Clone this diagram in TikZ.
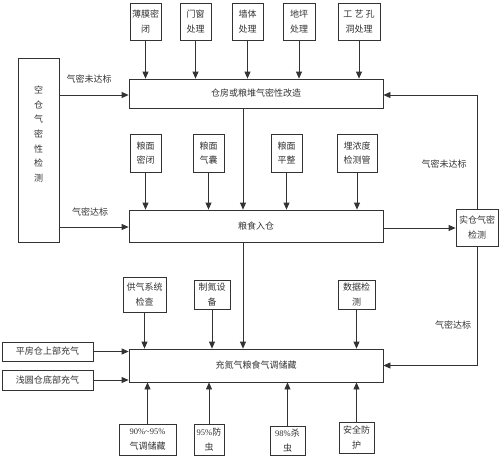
\documentclass[tikz,border=0pt]{standalone}
\usepackage{fontspec}
\setmainfont{Liberation Serif}
\newfontfamily\cjk{Noto Sans CJK SC}
\newfontfamily\digf{Liberation Serif}
\usetikzlibrary{arrows.meta}
\definecolor{ln}{gray}{0.2}
\newcommand{\dg}[1]{{\digf\fontsize{8.5}{14.5}\selectfont #1}}
\begin{document}
\begin{tikzpicture}[x=1pt,y=-1pt,
  font=\cjk\fontsize{9}{14.5}\selectfont,
  box/.style={draw=ln, line width=0.8pt, inner sep=0pt, align=center, text=ln},
  sz/.style 2 args={minimum width=#1pt, minimum height=#2pt},
  arr/.style={draw=ln, line width=0.8pt, -{Triangle[length=7pt,width=6pt]}},
  lbl/.style={text=ln, inner sep=0pt, align=center}]
\useasboundingbox (0,0) rectangle (500,456);
% top row
\node[box, sz={31}{37}] (f1) at (145.5,21.5) {薄膜密\\闭};
\node[box, sz={31}{37}] (f2) at (195.5,21.5) {门窗\\处理};
\node[box, sz={31}{37}] (f3) at (247.5,21.5) {墙体\\处理};
\node[box, sz={32}{37}] (f4) at (299,21.5) {地坪\\处理};
\node[box, sz={42}{37}] (f5) at (359,21.5) {工 艺 孔\\洞处理};
\node[box, sz={254}{29}] (A) at (256,93.5) {仓房或粮堆气密性改造};
% left test box
\node[box, sz={41}{184}] (E) at (38.5,150) {};
\node[lbl, font=\cjk\fontsize{9}{14.7}\selectfont] (Et) at (38.5,134) {空\\仓\\气\\密\\性\\检\\测};
% second row
\node[box, sz={31}{38}] (g1) at (145.5,153) {粮面\\密闭};
\node[box, sz={31}{38}] (g2) at (208.5,153) {粮面\\气囊};
\node[box, sz={31}{38}] (g3) at (286.5,153) {粮面\\平整};
\node[box, sz={40}{38}] (g4) at (357,153) {埋浓度\\检测管};
\node[box, sz={254}{32}] (B) at (256,226) {粮食入仓};
\node[box, sz={42}{37}] (S) at (477,227.5) {实仓气密\\检测};
% third row
\node[box, sz={43}{35}] (h1) at (144.5,294.5) {供气系统\\检查};
\node[box, sz={36}{29}] (h2) at (212,294.5) {制氮设\\备};
\node[box, sz={37}{29}] (h3) at (356.5,294.5) {数据检\\测};
\node[box, sz={254}{33}] (C) at (256,365.5) {充氮气粮食气调储藏};
\node[box, sz={91}{19}] (l1) at (47.5,351.5) {平房仓上部充气};
\node[box, sz={91}{20}] (l2) at (47.5,380) {浅圆仓底部充气};
% bottom row
\node[box, sz={57}{31}] (b1) at (147.5,439.5) {\dg{90\%\textasciitilde95\%}\\气调储藏};
\node[box, sz={30}{31}] (b2) at (209,439.5) {\dg{95\%}防\\虫};
\node[box, sz={35}{29}] (b3) at (287.5,440.5) {\dg{98\%}杀\\虫};
\node[box, sz={35}{31}] (b4) at (356.5,437.5) {安全防\\护};
% labels
\node[lbl] (t1) at (89,79) {气密未达标};
\node[lbl] (t2) at (90,212) {气密达标};
\node[lbl] (t3) at (444,164) {气密未达标};
\node[lbl] (t4) at (453,325) {气密达标};
% arrows
\foreach \n in {f1,f2,f3,f4,f5} \draw[arr] (\n.south) -- (\n.south |- A.north);
\foreach \n in {g1,g2,g3,g4} \draw[arr] (\n.south) -- (\n.south |- B.north);
\foreach \n in {h1,h2,h3} \draw[arr] (\n.south) -- (\n.south |- C.north);
\foreach \n in {b1,b2,b3,b4} \draw[arr] (\n.north) -- (\n.north |- C.south);
\draw[arr] ([xshift=-13pt]A.south) -- ([xshift=-13pt]B.north);
\draw[arr] ([xshift=-13pt]B.south) -- ([xshift=-13pt]C.north);
\draw[arr] ([yshift=-1.5pt]E.east |- A.west) -- ([yshift=-1.5pt]A.west);
\draw[arr] ([yshift=-1pt]E.east |- B.west) -- ([yshift=-1pt]B.west);
\draw[arr] ([yshift=-2pt]B.east) -- ([yshift=-2pt]B.east -| S.west);
\draw[arr] (S.north) |- ([yshift=-1.5pt]A.east);
\draw[arr] (S.south) |- (C.east);
\draw[arr] (l1.east) -- (l1.east -| C.west);
\draw[arr] (l2.east) -- (l2.east -| C.west);
\end{tikzpicture}
\end{document}
